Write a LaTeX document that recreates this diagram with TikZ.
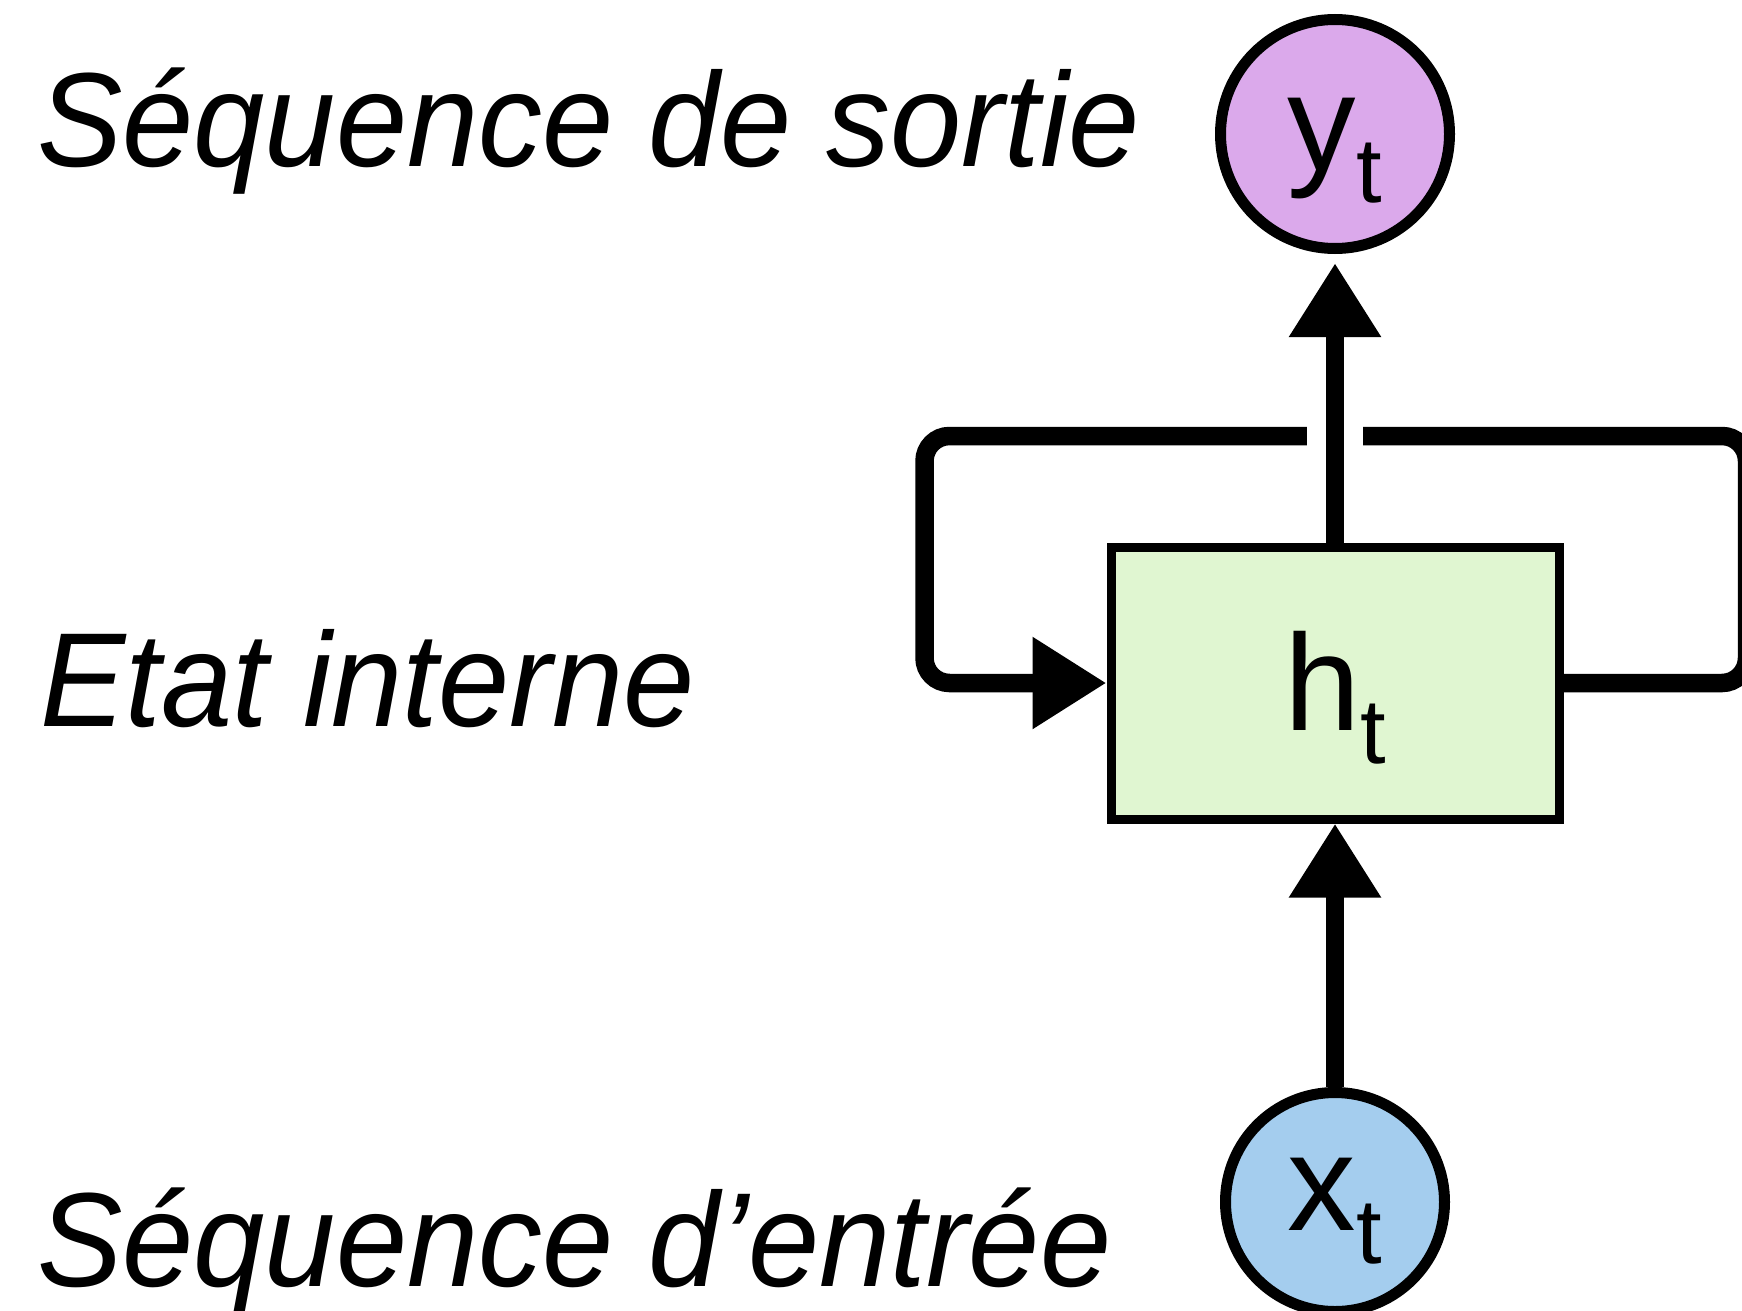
\documentclass[tikz,border=0pt]{standalone}
\usepackage{fontspec}
\usepackage{graphicx}
\setmainfont{Liberation Sans}
\usetikzlibrary{arrows.meta}
\definecolor{ypurple}{HTML}{DBA9EB}
\definecolor{hgreen}{HTML}{E0F6D1}
\definecolor{xblue}{HTML}{A4CDEE}
\newcommand{\bigsub}[2]{\fontsize{137}{160}\selectfont #1\raisebox{-33pt}{\fontsize{92}{100}\selectfont #2}}
\newcommand{\seqtext}[1]{\scalebox{0.955}[1]{#1}}
\tikzset{
  seqlabel/.style={anchor=base west, inner sep=0pt, font=\fontsize{134}{160}\selectfont\itshape},
  unitcircle/.style={circle, draw, line width=11pt, inner sep=0pt, text height=0pt, text depth=0pt},
  statebox/.style={rectangle, draw, line width=9pt, fill=hgreen, inner sep=0pt,
     minimum width=448pt, minimum height=272pt, text height=0pt, text depth=0pt},
  conn/.style={line width=18.5pt, -{Triangle[length=74pt,width=87pt]}},
  loopline/.style={line width=18.5pt, rounded corners=25pt, -{Triangle[length=74pt,width=87pt]}}
}
\begin{document}
\begin{tikzpicture}[x=1pt,y=-1pt]
\useasboundingbox (0,0) rectangle (1742,1311);
% labels
\node[seqlabel] (lout) at (37,166) {\seqtext{Séquence de sortie}};
\node[seqlabel] (lmid) at (40,726) {\seqtext{Etat interne}};
\node[seqlabel] (lin)  at (37,1286) {\seqtext{Séquence d’entrée}};
% nodes
\node[unitcircle, fill=ypurple, minimum size=229pt] (yc) at (1335,134) {\raisebox{-36pt}{\bigsub{y}{t}}};
\node[statebox] (hbox) at (1335,683) {\raisebox{-47pt}{\bigsub{h}{t}}};
\node[unitcircle, fill=xblue, minimum size=219pt] (xc) at (1335,1202) {\raisebox{-28pt}{\bigsub{x}{t}}};
% loop coordinates
\coordinate (rb) at (1747,683);
\coordinate (rt) at (1747,436);
\coordinate (lt) at (924.5,436);
\coordinate (lb) at (924.5,683);
\coordinate (cross) at (1335,436);
% recurrent loop
\draw[loopline] (hbox.east) -- (rb) -- (rt) -- (lt) -- (lb) -- (hbox.west);
% gap where the output line crosses the loop
\draw[white, line width=23pt] ([xshift=-28pt]cross) -- ([xshift=28pt]cross);
% input and output connectors
\draw[conn] (xc.north) -- (hbox.south);
\draw[conn, shorten >=9pt] (hbox.north) -- (yc.south);
\end{tikzpicture}
\end{document}
